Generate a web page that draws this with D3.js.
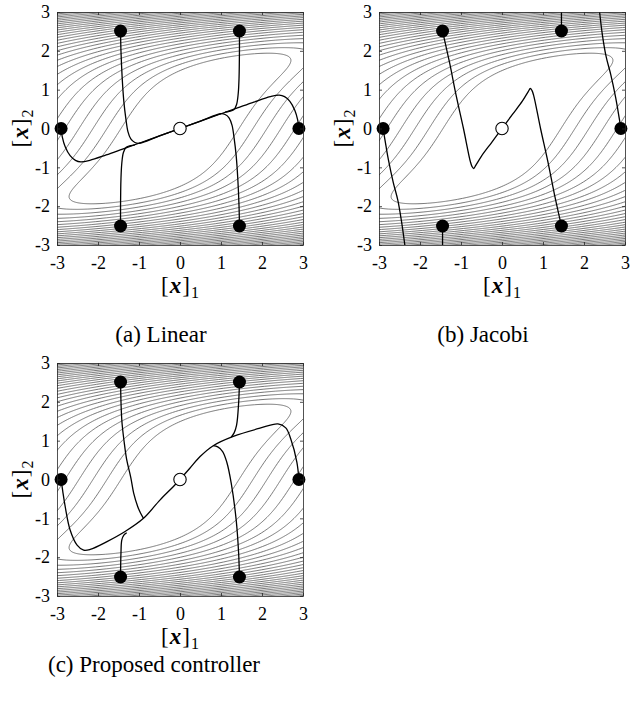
<!DOCTYPE html>
<html>
<head>
<meta charset="utf-8">
<script src="https://cdn.jsdelivr.net/npm/d3@7"></script>
<style>
  body { margin: 0; background: #fff; }
  text { font-family: "Liberation Serif", "Times New Roman", serif; fill: #000; }
</style>
</head>
<body>
<script>
const width = 630;
const height = 701;

// axis range and ticks (same for all panels)
const axisDomain = [-3, 3];
const tickValues = [-3, -2, -1, 0, 1, 2, 3];

// initial states and the equilibrium
const startPoints = [[-1.45, 2.51], [1.45, 2.51], [-2.9, 0], [2.9, 0], [-1.45, -2.51], [1.45, -2.51]];
const equilibrium = [0, 0];

// trajectories, [x1, x2]
const linearTraj = [
  [[-1.45, 2.51], [-1.44, 2.0], [-1.41, 1.3], [-1.37, 0.7], [-1.32, 0.25], [-1.27, -0.08], [-1.2, -0.27], [-1.1, -0.36], [-1.0, -0.38], [-0.5, -0.19], [0, 0]],
  [[-2.9, 0], [-2.87, -0.22], [-2.8, -0.47], [-2.68, -0.7], [-2.55, -0.82], [-2.42, -0.86], [-2.2, -0.82], [-1.8, -0.68], [-1.4, -0.53], [-1.0, -0.38], [-0.5, -0.19], [0, 0]],
  [[-1.45, -2.51], [-1.45, -2.0], [-1.44, -1.3], [-1.42, -0.9], [-1.38, -0.62], [-1.31, -0.48], [-1.2, -0.44], [-1.1, -0.42]],
  [[1.45, 2.51], [1.45, 2.0], [1.44, 1.3], [1.42, 0.9], [1.38, 0.62], [1.31, 0.48], [1.2, 0.44], [1.1, 0.42]],
  [[1.45, -2.51], [1.44, -2.0], [1.41, -1.3], [1.37, -0.7], [1.32, -0.25], [1.27, 0.08], [1.2, 0.27], [1.1, 0.36], [1.0, 0.38], [0.5, 0.19], [0, 0]],
  [[2.9, 0], [2.87, 0.22], [2.8, 0.47], [2.68, 0.7], [2.55, 0.82], [2.42, 0.86], [2.2, 0.82], [1.8, 0.68], [1.4, 0.53], [1.0, 0.38], [0.5, 0.19], [0, 0]]
];

const jacobiTraj = [
  [[-1.45, 2.51], [-1.28, 1.7], [-1.12, 0.86], [-0.94, 0], [-0.77, -0.86], [-0.73, -0.98], [-0.69, -1.03], [-0.64, -0.95], [-0.5, -0.71], [-0.25, -0.355], [0, 0]],
  [[1.45, -2.51], [1.28, -1.7], [1.12, -0.86], [0.94, 0], [0.77, 0.86], [0.73, 0.98], [0.69, 1.03], [0.64, 0.95], [0.5, 0.71], [0.25, 0.355], [0, 0]],
  [[-2.9, 0], [-2.83, -0.45], [-2.77, -0.81], [-2.65, -1.4], [-2.54, -1.85], [-2.45, -2.4], [-2.37, -3.0]],
  [[2.9, 0], [2.83, 0.45], [2.77, 0.81], [2.65, 1.4], [2.54, 1.85], [2.45, 2.4], [2.38, 3.0]],
  [[-1.45, -2.51], [-1.45, -3.0]],
  [[1.45, 2.51], [1.45, 3.0]]
];

const proposedTraj = [
  [[-1.45, 2.51], [-1.42, 1.54], [-1.36, 0.95], [-1.3, 0.51], [-1.2, 0.05], [-1.13, -0.35], [-1.03, -0.7], [-0.96, -0.87], [-0.89, -1.0]],
  [[-2.9, 0], [-2.86, -0.3], [-2.8, -0.7], [-2.68, -1.3], [-2.51, -1.69], [-2.35, -1.82], [-2.19, -1.8], [-1.78, -1.6], [-1.34, -1.34], [-0.89, -1.0], [-0.49, -0.53], [-0.16, -0.18], [0, 0]],
  [[-1.45, -2.51], [-1.44, -1.9], [-1.42, -1.56], [-1.37, -1.43], [-1.3, -1.37]],
  [[1.45, 2.51], [1.43, 1.97], [1.38, 1.4], [1.32, 1.2], [1.25, 1.09]],
  [[1.45, -2.51], [1.43, -1.9], [1.37, -1.04], [1.25, -0.1], [1.14, 0.45], [1.04, 0.72], [0.92, 0.84], [0.81, 0.87]],
  [[2.9, 0], [2.85, 0.45], [2.7, 1.05], [2.58, 1.33], [2.39, 1.43], [1.95, 1.32], [1.3, 1.11], [0.81, 0.87], [0.49, 0.59], [0.24, 0.29], [0, 0]]
];

const captions = ["(a) Linear", "(b) Jacobi", "(c) Proposed controller"];

// background cost surface (gray level sets)
const spineCoef = [0.6, 0.09, 0.012];
const boundCoef = 0.0389;
const levelPower = 0.5;
const innerLevel = 2.07, secondLevel = 3.17;
function costValue(x1, x2) {
  const s = spineCoef[0] * x2 + spineCoef[1] * Math.pow(x2, 3) + spineCoef[2] * Math.pow(x2, 5);
  return (x1 - s) * (x1 - s) + boundCoef * Math.pow(x2, 6);
}

// layout
const serif = '"Liberation Serif", "Times New Roman", serif';
const boxW = 246, boxH = 233;
const panels = [
  { left: 57, top: 12, traj: linearTraj, caption: captions[0], capX: 161, capY: 342 },
  { left: 379, top: 12, traj: jacobiTraj, caption: captions[1], capX: 483, capY: 342 },
  { left: 57, top: 363, traj: proposedTraj, caption: captions[2], capX: 154, capY: 672 }
];

const svg = d3.select("body").append("svg")
  .attr("width", width)
  .attr("height", height);

const x = d3.scaleLinear().domain(axisDomain).range([0, boxW]);
const y = d3.scaleLinear().domain(axisDomain).range([boxH, 0]);

// contour grid, a little wider than the box so border rings fall outside
const gMin = -3.1, gMax = 3.1, n = 249;
const gStep = (gMax - gMin) / (n - 1);
const grid = new Float64Array(n * n);
for (let j = 0; j < n; j++) {
  for (let i = 0; i < n; i++) {
    grid[j * n + i] = Math.pow(costValue(gMin + i * gStep, gMin + j * gStep), levelPower);
  }
}
const z0 = Math.pow(innerLevel, levelPower);
const dz = Math.pow(secondLevel, levelPower) - z0;
const levels = d3.range(z0, d3.max(grid), dz);
const contourSet = d3.contours().size([n, n]).thresholds(levels)(grid);

const gridProj = d3.geoTransform({
  point(px, py) {
    this.stream.point(x(gMin + (px - 0.5) * gStep), y(gMin + (py - 0.5) * gStep));
  }
});
const contourPath = d3.geoPath(gridProj);

const line = d3.line()
  .x(d => x(d[0]))
  .y(d => y(d[1]))
  .curve(d3.curveCatmullRom.alpha(0.5));

function mathLabel(sel, sub) {
  sel.append("tspan").text("[");
  sel.append("tspan").attr("font-weight", "bold").attr("font-style", "italic").attr("dx", 1).text("x");
  sel.append("tspan").attr("dx", 1).text("]");
  sel.append("tspan").attr("font-size", 16).attr("dy", 5).attr("dx", 1).text(sub);
}

panels.forEach((p, k) => {
  const g = svg.append("g").attr("transform", `translate(${p.left},${p.top})`);

  g.append("clipPath").attr("id", "clip" + k)
    .append("rect").attr("width", boxW).attr("height", boxH);

  const plot = g.append("g").attr("clip-path", `url(#clip${k})`);

  plot.selectAll("path.lvl")
    .data(contourSet)
    .enter()
    .append("path")
    .attr("class", "lvl")
    .attr("d", contourPath)
    .attr("fill", "none")
    .attr("stroke", "#666")
    .attr("stroke-width", 0.9);

  plot.selectAll("path.traj")
    .data(p.traj)
    .enter()
    .append("path")
    .attr("class", "traj")
    .attr("d", line)
    .attr("fill", "none")
    .attr("stroke", "#000")
    .attr("stroke-width", 1.3);

  g.selectAll("circle.start")
    .data(startPoints)
    .enter()
    .append("circle")
    .attr("class", "start")
    .attr("cx", d => x(d[0]))
    .attr("cy", d => y(d[1]))
    .attr("r", 6.5)
    .attr("fill", "#000");

  g.append("circle")
    .attr("cx", x(equilibrium[0]))
    .attr("cy", y(equilibrium[1]))
    .attr("r", 6.2)
    .attr("fill", "#fff")
    .attr("stroke", "#000")
    .attr("stroke-width", 1.1);

  // axes: box with inward ticks on all sides
  const fmt = d => String(d);
  const ax = [
    g.append("g").attr("transform", `translate(0,${boxH})`)
      .call(d3.axisBottom(x).tickValues(tickValues).tickFormat(fmt).tickSizeInner(-3).tickSizeOuter(0).tickPadding(11)),
    g.append("g")
      .call(d3.axisLeft(y).tickValues(tickValues).tickFormat(fmt).tickSizeInner(-3).tickSizeOuter(0).tickPadding(7)),
    g.append("g")
      .call(d3.axisTop(x).tickValues(tickValues).tickFormat("").tickSizeInner(-3).tickSizeOuter(0)),
    g.append("g").attr("transform", `translate(${boxW},0)`)
      .call(d3.axisRight(y).tickValues(tickValues).tickFormat("").tickSizeInner(-3).tickSizeOuter(0))
  ];
  ax.forEach(a => {
    a.attr("font-family", null);
    a.selectAll(".domain").attr("stroke", "#262626").attr("stroke-width", 0.8);
    a.selectAll(".tick line").attr("stroke", "#262626").attr("stroke-width", 0.8);
    a.selectAll(".tick text")
      .style("font-family", serif)
      .style("font-size", "18px")
      .attr("fill", "#000");
  });

  // axis titles
  const xt = g.append("text")
    .attr("x", boxW / 2)
    .attr("y", boxH + 48)
    .attr("text-anchor", "middle")
    .attr("font-size", 23);
  mathLabel(xt, "1");

  const yt = g.append("text")
    .attr("transform", `translate(-29,${boxH / 2}) rotate(-90)`)
    .attr("text-anchor", "middle")
    .attr("font-size", 23);
  mathLabel(yt, "2");

  svg.append("text")
    .attr("x", p.capX)
    .attr("y", p.capY)
    .attr("text-anchor", "middle")
    .attr("font-size", 23)
    .text(p.caption);
});
</script>
</body>
</html>
